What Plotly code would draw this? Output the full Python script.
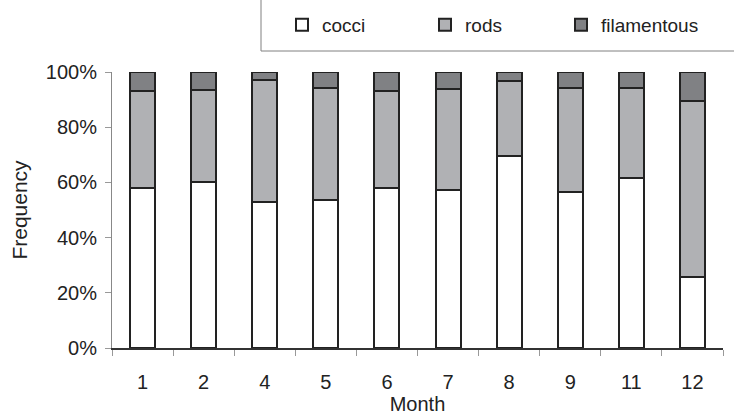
import plotly.graph_objects as go

months = ["1", "2", "4", "5", "6", "7", "8", "9", "11", "12"]
cocci = [57.9, 60.2, 52.8, 53.6, 57.9, 57.2, 69.7, 56.6, 61.7, 25.8]
rods = [35.1, 33.4, 44.4, 40.7, 35.1, 36.5, 26.9, 37.7, 32.6, 63.6]
filamentous = [7.0, 6.4, 2.8, 5.7, 7.0, 6.3, 3.4, 5.7, 5.7, 10.6]
y_ticks = [0, 20, 40, 60, 80, 100]
y_labels = ["0%", "20%", "40%", "60%", "80%", "100%"]

W, H = 734, 416
L, R, T, B = 112, 11, 72, 68
pw, ph = W - L - R, H - T - B

def px(x):
    return (x - L) / pw

def py(y):
    return (H - B - y) / ph

line = dict(color="#222222", width=2)
fig = go.Figure()
fig.add_trace(go.Bar(x=months, y=cocci, name="cocci", legend="legend",
                     marker=dict(color="#ffffff", line=line)))
fig.add_trace(go.Bar(x=months, y=rods, name="rods", legend="legend2",
                     marker=dict(color="#b0b1b4", line=line)))
fig.add_trace(go.Bar(x=months, y=filamentous, name="filamentous", legend="legend3",
                     marker=dict(color="#808184", line=line)))

font = "Liberation Sans, Arial, sans-serif"

def leg(xpix):
    return dict(orientation="h", x=px(xpix), xanchor="left", y=py(25), yanchor="middle",
                font=dict(size=19, color="#222222"), bgcolor="rgba(0,0,0,0)", borderwidth=0)

fig.update_layout(
    width=W, height=H,
    margin=dict(l=L, r=R, t=T, b=B, autoexpand=False),
    barmode="stack", bargap=0.59,
    plot_bgcolor="#ffffff", paper_bgcolor="#ffffff",
    font=dict(family=font, size=20, color="#222222"),
    showlegend=True,
    legend=leg(282), legend2=leg(425), legend3=leg(561),
    shapes=[
        dict(type="line", xref="paper", yref="paper", x0=px(261), x1=px(734), y0=py(51), y1=py(51),
             line=dict(color="#808080", width=1)),
        dict(type="line", xref="paper", yref="paper", x0=px(261), x1=px(261), y0=py(0), y1=py(51),
             line=dict(color="#808080", width=1)),
    ],
)
fig.update_xaxes(
    type="category", showgrid=False, showline=True, linecolor="#333333", linewidth=1.5,
    ticks="outside", tickson="boundaries", ticklen=6, tickcolor="#999999", tickwidth=1,
    ticklabelstandoff=15, title=dict(text="Month", standoff=0, font=dict(size=20)),
)
fig.update_yaxes(
    range=[0, 100], tickvals=y_ticks, ticktext=y_labels, showgrid=False, zeroline=False,
    showline=True, linecolor="#888888", linewidth=1,
    ticks="outside", ticklen=6, tickcolor="#999999", tickwidth=1, ticklabelstandoff=4,
    title=dict(text="Frequency", standoff=12, font=dict(size=21)),
)
fig.write_html("out.html", config={"displayModeBar": False},
               post_script="document.body.style.margin='0';")
